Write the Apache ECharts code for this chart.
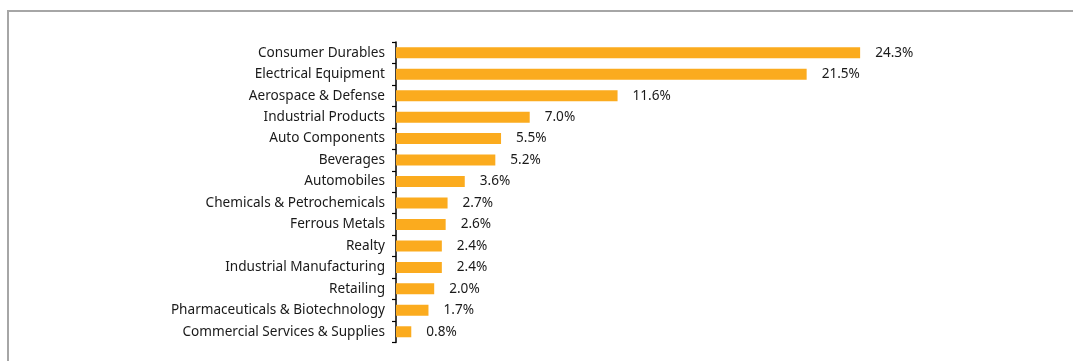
<!DOCTYPE html>
<html>
<head>
<meta charset="utf-8">
<script src="https://cdn.jsdelivr.net/npm/echarts@6/dist/echarts.min.js"></script>
<style>
  html, body { margin: 0; padding: 0; background: #ffffff; overflow: hidden; }
  #chart { width: 1073px; height: 361px; }
</style>
</head>
<body>
<div id="chart"></div>
<script>
// Sector allocation, largest first
const sectors = [
  'Consumer Durables',
  'Electrical Equipment',
  'Aerospace & Defense',
  'Industrial Products',
  'Auto Components',
  'Beverages',
  'Automobiles',
  'Chemicals & Petrochemicals',
  'Ferrous Metals',
  'Realty',
  'Industrial Manufacturing',
  'Retailing',
  'Pharmaceuticals & Biotechnology',
  'Commercial Services & Supplies'
];
const weights = [24.3, 21.5, 11.6, 7.0, 5.5, 5.2, 3.6, 2.7, 2.6, 2.4, 2.4, 2.0, 1.7, 0.8];

const chart = echarts.init(document.getElementById('chart'), null, { renderer: 'canvas' });
const font = '"Noto Sans", "Open Sans", sans-serif';

chart.setOption({
  animation: false,
  backgroundColor: '#ffffff',
  // panel frame: only the top and left edges fall inside the view
  graphic: [{
    type: 'polyline',
    shape: { points: [[8, 400], [8, 11], [1100, 11]] },
    style: { fill: 'none', stroke: '#a6a6a6', lineWidth: 2 },
    silent: true,
    z: -1
  }],
  grid: { left: 396, top: 42, width: 573, height: 300.5, containLabel: false },
  xAxis: {
    type: 'value',
    min: 0,
    max: 30,
    show: false
  },
  yAxis: {
    type: 'category',
    inverse: true,
    data: sectors,
    axisLine: { show: true, lineStyle: { color: '#000000', width: 1.5 } },
    axisTick: { show: true, length: 4, lineStyle: { color: '#000000', width: 1.2 } },
    axisLabel: { color: '#1a1a1a', fontFamily: font, fontSize: 13.6, margin: 11 },
    splitLine: { show: false }
  },
  series: [{
    type: 'bar',
    data: weights,
    barWidth: 11,
    itemStyle: { color: '#FBAB1E' },
    label: {
      show: true,
      position: 'right',
      distance: 15,
      color: '#1a1a1a',
      fontFamily: font,
      fontSize: 13.6,
      formatter: p => p.value.toFixed(1) + '%'
    }
  }]
});
</script>
</body>
</html>
